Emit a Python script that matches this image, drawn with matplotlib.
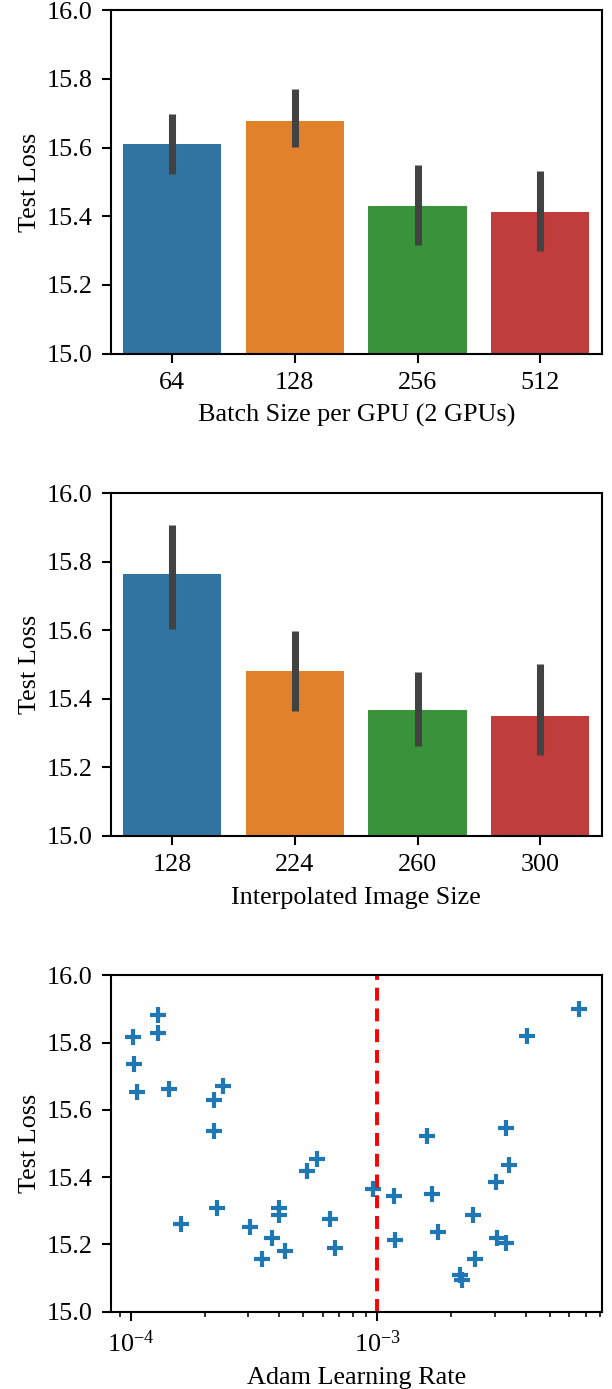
import matplotlib
matplotlib.use("Agg")
import matplotlib.pyplot as plt
import numpy as np

plt.rcParams['font.family'] = ['Liberation Serif', 'DejaVu Serif']
plt.rcParams['mathtext.fontset'] = 'stix'
plt.rcParams['font.size'] = 10

colors = ['#3274a1', '#e1812c', '#3a923a', '#c03d3e']

# Panel 1: batch size
batch_labels = ['64', '128', '256', '512']
batch_loss = [15.610, 15.677, 15.429, 15.412]
batch_lo = [15.524, 15.601, 15.316, 15.299]
batch_hi = [15.699, 15.770, 15.549, 15.533]

# Panel 2: image size
img_labels = ['128', '224', '260', '300']
img_loss = [15.763, 15.481, 15.366, 15.350]
img_lo = [15.603, 15.364, 15.263, 15.235]
img_hi = [15.908, 15.597, 15.478, 15.502]

# Panel 3: learning rate scatter
lr = [1.02e-4, 1.03e-4, 1.057e-4, 1.286e-4, 1.29e-4, 1.43e-4, 1.60e-4,
      2.18e-4, 2.37e-4, 2.18e-4, 2.23e-4, 3.05e-4, 3.40e-4, 3.73e-4,
      4.00e-4, 4.00e-4, 4.24e-4, 5.18e-4, 5.69e-4, 6.44e-4, 6.73e-4,
      9.58e-4, 1.17e-3, 1.18e-3, 1.59e-3, 1.66e-3, 1.77e-3, 2.16e-3,
      2.20e-3, 2.45e-3, 2.50e-3, 3.03e-3, 3.06e-3, 3.32e-3, 3.34e-3,
      3.43e-3, 4.06e-3, 6.61e-3]
lr_loss = [15.817, 15.736, 15.653, 15.883, 15.827, 15.663, 15.260,
           15.629, 15.671, 15.538, 15.309, 15.252, 15.156, 15.218,
           15.309, 15.286, 15.181, 15.418, 15.455, 15.275, 15.190,
           15.364, 15.345, 15.213, 15.523, 15.351, 15.238, 15.110,
           15.094, 15.287, 15.156, 15.387, 15.220, 15.203, 15.545,
           15.436, 15.819, 15.901]
lr_best = 1e-3

W, H = 612, 1389
dpi = 188
fig = plt.figure(figsize=(W / dpi, H / dpi), dpi=dpi)

def axes_px(left, right, top, bottom):
    return fig.add_axes([left / W, 1 - bottom / H, (right - left) / W, (bottom - top) / H])

yticks = [15.0, 15.2, 15.4, 15.6, 15.8, 16.0]

def barpanel(ax, labels, vals, lo, hi, xlabel):
    x = np.arange(len(labels))
    ax.bar(x, np.array(vals) - 15.0, bottom=15.0, width=0.8, color=colors)
    ax.vlines(x, lo, hi, color='#424242', linewidth=2.7, capstyle='butt')
    ax.set_xticks(x)
    ax.set_xticklabels(labels)
    ax.set_xlim(-0.5, len(labels) - 0.5)
    ax.set_ylim(15.0, 16.0)
    ax.set_yticks(yticks)
    ax.set_yticklabels([f'{v:.1f}' for v in yticks])
    ax.set_xlabel(xlabel)
    ax.set_ylabel('Test Loss', labelpad=2)

ax1 = axes_px(110.7, 601.7, 10.3, 353.6)
barpanel(ax1, batch_labels, batch_loss, batch_lo, batch_hi, 'Batch Size per GPU (2 GPUs)')

ax2 = axes_px(110.7, 601.7, 493.0, 836.0)
barpanel(ax2, img_labels, img_loss, img_lo, img_hi, 'Interpolated Image Size')

ax3 = axes_px(110.7, 601.7, 975.3, 1311.7)
ax3.plot(lr, lr_loss, linestyle='none', marker='+', markersize=6.2, markeredgewidth=1.6,
         color='#1f77b4')
ax3.set_xscale('log')
ax3.axvline(lr_best, color='red', linewidth=1.5, linestyle=(0, (3.3, 2.0)))
ax3.set_ylim(15.0, 16.0)
ax3.set_yticks(yticks)
ax3.set_yticklabels([f'{v:.1f}' for v in yticks])
ax3.set_xlabel('Adam Learning Rate')
ax3.set_ylabel('Test Loss', labelpad=2)

fig.savefig('out.png', dpi=dpi)
